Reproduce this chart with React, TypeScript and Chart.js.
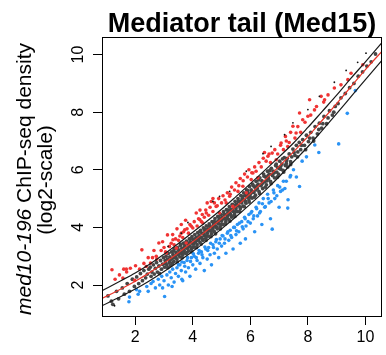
import React, { useEffect, useRef } from "react";
import { Chart, registerables } from "chart.js";

Chart.register(...registerables);

const titleText = "Mediator tail (Med15)";
const yLabelItalic = "med10-196";
const yLabelRest = " ChIP-seq density";
const yLabelLine2 = "(log2-scale)";

const xTicks = [2, 4, 6, 8, 10];
const yTicks = [2, 4, 6, 8, 10];

const lineX = [0.84, 1.5, 2, 2.5, 3, 3.5, 4, 4.5, 5, 5.5, 6, 6.5, 7, 7.5, 8, 8.5, 9, 9.5, 10, 10.58];
const upperY = [1.8, 2.15, 2.42, 2.72, 3.07, 3.44, 3.83, 4.22, 4.63, 5.07, 5.52, 5.98, 6.45, 6.93, 7.47, 8.03, 8.59, 9.18, 9.75, 10.42];
const fitY = [1.53, 1.86, 2.13, 2.43, 2.76, 3.12, 3.5, 3.9, 4.3, 4.72, 5.17, 5.64, 6.12, 6.62, 7.15, 7.72, 8.3, 8.89, 9.48, 10.12];
const lowerY = [1.28, 1.6, 1.86, 2.15, 2.47, 2.81, 3.17, 3.55, 3.95, 4.37, 4.81, 5.27, 5.76, 6.28, 6.8, 7.37, 7.95, 8.54, 9.13, 9.81];

const grayPts = [
  [1.05,1.62],[1.17,1.44],[1.22,1.33],[1.35,1.78],[1.42,1.52],[1.55,1.9],[1.62,1.68],[1.72,2.05],[1.8,1.78],[1.9,2.2],[1.97,1.95],[2.05,2.28],[2.12,2.05],[2.18,2.4],[2.25,2.15],[2.3,2.5],[2.36,2.25],[2.42,2.38],[2.47,2.55],
  [2.52,2.62],[2.55,2.3],[2.58,2.45],[2.63,2.7],[2.66,2.38],[2.7,2.58],[2.74,2.78],[2.77,2.45],[2.82,2.66],[2.84,2.4],[2.88,2.85],[2.91,2.55],[2.95,2.72],[2.98,2.95],
  [3.02,2.62],[3.04,2.85],[3.07,3.0],[3.1,2.7],[3.12,2.9],[3.15,3.1],[3.18,2.78],[3.2,2.98],[3.23,2.68],[3.26,3.15],[3.28,2.92],[3.31,3.05],[3.34,2.82],[3.36,3.25],[3.39,3.0],[3.42,3.12],[3.45,2.9],[3.47,3.3],[3.5,3.05],
  [3.52,3.2],[3.55,2.98],[3.57,3.38],[3.6,3.12],[3.62,3.28],[3.65,3.05],[3.68,3.45],[3.7,3.2],[3.72,3.35],[3.75,3.1],[3.78,3.52],[3.8,3.28],[3.82,3.42],[3.85,3.18],[3.88,3.6],[3.9,3.35],[3.92,3.5],[3.95,3.25],[3.97,3.68],[4.0,3.42],
  [4.02,3.58],[4.05,3.32],[4.07,3.75],[4.1,3.5],[4.12,3.65],[4.15,3.4],[4.17,3.82],[4.2,3.58],[4.22,3.72],[4.25,3.48],[4.27,3.9],[4.3,3.65],[4.32,3.8],[4.35,3.55],[4.37,3.98],[4.4,3.72],[4.42,3.88],[4.45,3.62],[4.47,4.05],[4.5,3.8],
  [4.52,3.95],[4.55,3.7],[4.57,4.12],[4.6,3.88],[4.62,4.02],[4.65,3.78],[4.67,4.2],[4.7,3.95],[4.72,4.1],[4.75,3.85],[4.77,4.3],[4.8,4.05],[4.82,4.18],[4.85,3.95],[4.87,4.38],[4.9,4.12],[4.92,4.28],[4.95,4.02],[4.97,4.45],[5.0,4.22],
  [5.02,4.35],[5.05,4.1],[5.07,4.55],[5.1,4.3],[5.12,4.45],[5.15,4.2],[5.17,4.62],[5.2,4.38],[5.22,4.52],[5.25,4.28],[5.27,4.72],[5.3,4.48],[5.32,4.62],[5.35,4.36],[5.37,4.8],[5.4,4.56],[5.42,4.7],[5.45,4.45],[5.47,4.9],[5.5,4.65],
  [5.52,4.8],[5.55,4.55],[5.57,5.0],[5.6,4.75],[5.62,4.9],[5.65,4.65],[5.67,5.1],[5.7,4.85],[5.72,5.0],[5.75,4.74],[5.77,5.2],[5.8,4.95],[5.82,5.1],[5.85,4.84],[5.87,5.3],[5.9,5.05],[5.92,5.2],[5.95,4.95],[5.97,5.42],[6.0,5.15],
  [6.03,5.3],[6.06,5.02],[6.08,5.5],[6.12,5.22],[6.15,5.4],[6.18,5.12],[6.2,5.6],[6.24,5.35],[6.27,5.5],[6.3,5.25],[6.33,5.72],[6.36,5.45],[6.4,5.62],[6.43,5.35],[6.46,5.85],[6.5,5.58],
  [6.53,5.75],[6.56,5.48],[6.6,5.95],[6.63,5.7],[6.66,5.85],[6.7,5.6],[6.73,6.05],[6.77,5.8],[6.8,5.95],[6.84,5.72],[6.88,6.15],[6.92,5.92],[6.95,6.08],[6.98,5.85],
  [7.02,6.3],[7.06,6.02],[7.1,6.2],[7.14,5.98],[7.18,6.42],[7.22,6.15],[7.26,6.32],[7.3,6.1],[7.35,6.55],[7.4,6.28],[7.44,6.45],[7.48,6.72],
  [7.55,6.5],[7.6,6.85],[7.65,6.62],[7.7,6.95],[7.75,6.7],[7.82,7.05],[7.88,6.85],[7.95,7.2],[8.02,6.98],[8.1,7.3],[8.18,7.1],[8.25,7.5],[8.33,7.25],[8.4,7.62],[8.48,7.45],[8.56,7.85],[8.65,7.6],[8.75,8.05],[8.85,7.9],[8.95,8.2],[9.05,8.3],[9.15,8.5],[9.3,8.65],[9.45,8.85],[9.6,9.0],[9.75,9.25],[9.9,9.4],[10.05,9.6],[10.2,9.75],[10.35,10.02],
  [3.33,3.18],[3.41,2.95],[3.49,3.22],[3.58,3.42],[3.66,3.15],[3.74,3.45],[3.83,3.3],[3.91,3.6],[3.99,3.3],[4.08,3.6],[4.16,3.55],[4.24,3.85],[4.33,3.6],[4.41,3.95],[4.49,3.7],[4.58,4.05],[4.66,3.9],[4.74,4.2],[4.83,4.0],[4.91,4.35],[4.99,4.1],[5.08,4.45],[5.16,4.3],[5.24,4.6],[5.33,4.42],[5.41,4.78],[5.49,4.55],[5.58,4.9],[5.66,4.7],[5.74,5.08],[5.83,4.9],[5.91,5.28],[5.99,5.05],[6.1,5.45],[6.19,5.3],[6.28,5.65],[6.38,5.48],[6.48,5.78],[6.58,5.62],[6.68,5.98],[6.78,5.85],[6.9,6.2],[7.0,6.05],[7.12,6.38],[7.25,6.22],
  [3.05,2.75],[3.13,2.6],[3.21,2.85],[3.29,2.75],[3.37,2.95],[3.46,2.8],[3.54,3.1],[3.63,2.95],[3.71,3.3],[3.79,3.12],[3.87,3.45],[3.96,3.15],[4.04,3.45],[4.13,3.3],[4.21,3.65],[4.29,3.42],[4.38,3.78],[4.46,3.55],[4.54,3.88],[4.63,3.68],[4.71,4.02],[4.79,3.78],[4.88,4.2],[4.96,3.95],[5.04,4.3],[5.13,4.12],[5.21,4.42],[5.29,4.22],[5.38,4.6],[5.46,4.38],[5.54,4.75],[5.63,4.55],[5.71,4.95],[5.79,4.72],[5.88,5.12],[5.96,4.88],[6.05,5.22],[6.14,5.05],[6.23,5.45],[6.32,5.18],[6.41,5.52],[6.52,5.4],[6.62,5.8],[6.72,5.52],[6.83,5.9],[6.94,5.75],[7.05,6.12],[7.16,5.92],[7.28,6.4],[7.4,6.18],[7.52,6.6],[7.64,6.45],[7.78,6.85],[7.92,6.7],[8.06,7.1],[8.2,7.0],[8.38,7.4],[8.52,7.6],[8.7,7.8],[8.9,8.0]
];

const redPts = [
  [1.19,2.53],[1.57,2.24],[1.6,2.55],[1.69,2.55],[1.83,2.58],[2.01,2.67],[2.23,3.22],[1.98,2.16],[2.38,2.64],[2.53,2.76],[2.73,3.0],[2.82,3.46],[3.08,3.11],[3.12,3.74],[3.19,3.34],[3.31,3.57],[3.43,3.28],[3.6,3.8],[3.72,3.92],[3.77,3.46],[3.95,4.04],[4.12,4.5],[4.24,4.27],[4.35,4.15],[4.47,4.5],[4.64,4.9],[4.81,4.73],[4.93,4.5],[5.16,4.85],[5.28,5.08],[5.39,4.73],[5.57,5.25],[5.74,5.43],[5.86,5.2],[6.03,5.66],[6.09,5.89],[6.26,5.72],[6.49,6.6],[6.61,6.47],[6.76,6.58],[6.9,6.35],[7.07,6.93],[7.22,7.16],[7.3,6.81],[7.48,7.51],[7.59,7.28],[7.71,7.97],[7.82,7.74],[8.0,7.86],[8.06,8.43],[8.23,8.08],[8.46,8.55],[8.58,8.43],[8.92,8.84],[9.39,9.13],[9.91,9.65],
  [2.9,3.2],[3.0,3.3],[3.05,3.15],[3.25,3.45],[3.35,3.4],[3.4,3.6],[3.5,3.55],[3.55,3.7],[3.65,3.65],[3.68,3.85],[3.8,3.95],[3.85,3.8],[3.9,4.1],[4.0,3.98],[4.05,4.2],[4.15,4.05],[4.2,4.3],[4.3,4.2],[4.33,4.45],[4.4,4.35],[4.45,4.6],[4.55,4.42],[4.6,4.7],[4.7,4.55],[4.75,4.85],[4.85,4.75],[4.9,5.0],[5.0,4.85],[5.05,5.1],[5.12,4.95],[5.2,5.2],[5.3,5.15],[5.35,5.4],[5.45,5.3],[5.5,5.55],[5.6,5.45],[5.65,5.7],[5.75,5.62],[5.8,5.85],[5.9,5.75],[5.95,6.0],[6.05,5.9],[6.15,6.1],[6.2,5.95],[6.3,6.25],[6.38,6.1],[6.45,6.4],[6.55,6.3],[6.65,6.55],[6.7,6.25],[6.85,6.7],[6.95,6.55],[7.05,6.85],[7.15,6.7],[7.25,7.0],[7.35,6.95],[7.4,7.3],[7.55,7.1],[7.65,7.5],[7.75,7.3],[7.9,7.65],[8.1,7.9],[8.3,8.2],[8.55,8.35],[8.7,8.6],[9.15,8.95],[9.5,9.35],
  [1.3,2.2],[1.45,2.35],[1.7,2.45],[2.15,2.55],[2.3,2.75],[2.45,2.95],[2.6,2.95],[2.65,3.2],[2.75,2.9],[2.95,3.5],[3.3,3.75],[3.45,3.95],[3.6,4.1],[3.75,4.25],[4.25,4.6],[4.5,4.85],[4.7,5.0]
];

const bluePts = [
  [1.78,1.42],[1.8,1.58],[2.1,1.68],[2.15,1.78],[2.4,1.95],[2.55,2.05],[2.62,2.12],[2.7,1.9],[2.8,2.2],[2.85,2.0],[2.92,2.3],[3.02,1.6],[3.0,2.15],[3.1,2.35],[3.15,2.0],[3.2,2.45],[3.25,2.25],[3.3,2.55],[3.35,2.1],[3.4,2.4],[3.45,2.6],[3.5,2.3],[3.55,2.7],[3.6,2.5],[3.65,2.15],[3.7,2.78],[3.75,2.45],[3.8,2.85],[3.85,2.6],[3.9,2.3],[3.95,2.95],[4.0,2.7],[4.05,3.0],[4.1,2.55],[4.15,2.85],[4.2,3.1],[4.25,2.75],[4.3,3.15],[4.35,2.95],[4.4,2.5],[4.45,3.25],[4.5,2.9],[4.55,3.3],[4.6,3.05],[4.65,2.7],[4.7,3.4],[4.75,3.1],[4.8,3.5],[4.85,3.25],[4.9,2.95],[4.95,3.6],[5.0,3.35],[5.05,3.7],[5.1,3.45],[5.15,3.1],[5.2,3.8],[5.25,3.55],[5.3,3.9],[5.35,3.65],[5.4,3.25],[5.45,4.0],[5.5,3.75],[5.55,4.1],[5.6,3.85],[5.65,3.45],[5.7,4.2],[5.75,3.95],[5.8,4.35],[5.85,4.05],[5.83,3.6],[5.95,4.45],[6.0,4.15],[6.05,4.55],[6.1,4.3],[6.15,3.85],[6.2,4.7],[6.25,4.4],[6.3,4.85],[6.35,4.55],[6.4,4.1],[6.45,5.0],[6.5,4.7],[6.6,5.15],[6.65,4.85],[6.7,4.3],[6.76,3.94],[6.8,5.3],[6.85,5.0],[6.95,5.45],[7.0,4.7],[7.05,5.25],[7.15,5.6],[7.2,5.35],[7.31,4.96],[7.3,4.67],[7.4,5.8],[7.5,6.0],[7.6,5.75],[7.71,5.42],[7.8,6.3],[7.95,6.45],[8.24,6.86],[8.38,6.6],[9.07,6.9],[9.37,7.96],[9.65,8.75],[2.45,1.78],[2.95,1.9],[3.28,1.95],[3.62,2.2],[2.04,1.84],
  [3.5,2.7],[3.62,2.8],[3.72,2.65],[3.82,2.95],[3.92,2.82],[4.02,3.08],[4.12,2.95],[4.22,3.2],[4.32,3.05],[4.42,3.32],[4.52,3.2],[4.62,3.45],[4.72,3.3],[4.82,3.58],[4.92,3.45],[5.02,3.72],[5.12,3.6],[5.22,3.85],[5.32,3.72],[5.42,4.0],[5.52,3.88],[5.62,4.15],[5.72,4.02],[5.82,4.3],[5.92,4.2],[6.02,4.5],[6.12,4.4],[6.22,4.65],[6.32,4.5],[6.42,4.82],[6.52,4.72],[6.62,5.0],[6.72,4.9],[6.82,5.2],[6.92,5.1],[7.02,5.4],[7.12,5.3],[7.25,5.6],[7.38,5.75]
];

const dotPts = [
  [10.02,10.05],[9.73,9.73],[9.33,9.45],[8.92,9.04],[8.4,8.55],[8.0,8.09],[7.48,7.63],[7.19,7.22],[6.72,6.81],[6.44,6.56],[5.86,5.95],[5.28,5.25],[4.93,5.08],[4.7,4.9],[3.83,4.17],[3.6,3.8],[3.14,3.34],[2.73,2.88],[2.38,2.65],[1.28,1.28]
];

const FONT = "'Liberation Sans', Arial, Helvetica, sans-serif";

const toXY = (pts: number[][]) => pts.map(([x, y]) => ({ x, y }));
const lineXY = (ys: number[]) => lineX.map((x, i) => ({ x, y: ys[i] }));

const decorPlugin = {
  id: "decor",
  afterDatasetsDraw(chart: any) {
    const { ctx, chartArea } = chart;
    ctx.save();
    ctx.strokeStyle = "#000";
    ctx.lineWidth = 1;
    ctx.strokeRect(Math.round(chartArea.left) + 0.5, Math.round(chartArea.top) + 0.5,
      Math.round(chartArea.right - chartArea.left) - 1, Math.round(chartArea.bottom - chartArea.top) - 1);
    ctx.restore();
  },
  afterDraw(chart: any) {
    const { ctx, chartArea } = chart;
    ctx.save();
    ctx.fillStyle = "#000";
    ctx.font = `bold 27px ${FONT}`;
    ctx.textAlign = "center";
    ctx.textBaseline = "alphabetic";
    ctx.fillText(titleText, (chartArea.left + chartArea.right) / 2, 31.5);

    const cy = 179;
    const italicFont = `italic 21px ${FONT}`;
    const normalFont = `21px ${FONT}`;
    ctx.font = italicFont;
    const w1 = ctx.measureText(yLabelItalic).width;
    ctx.font = normalFont;
    const w2 = ctx.measureText(yLabelRest).width;
    const total = w1 + w2;
    ctx.save();
    ctx.translate(30.5, cy);
    ctx.rotate(-Math.PI / 2);
    ctx.textAlign = "left";
    ctx.font = italicFont;
    ctx.fillText(yLabelItalic, -total / 2, 0);
    ctx.font = normalFont;
    ctx.fillText(yLabelRest, -total / 2 + w1, 0);
    ctx.restore();

    ctx.save();
    ctx.translate(51.5, cy + 1);
    ctx.rotate(-Math.PI / 2);
    ctx.textAlign = "center";
    ctx.font = normalFont;
    ctx.fillText(yLabelLine2, 0, 0);
    ctx.restore();
    ctx.restore();
  },
};

export default function App() {
  const ref = useRef<HTMLCanvasElement | null>(null);
  useEffect(() => {
    if (!ref.current) return;
    const chart = new Chart(ref.current, {
      type: "scatter",
      data: {
        datasets: [
          { data: lineXY(upperY), showLine: true, borderColor: "#1a1a1a", borderWidth: 1.2, pointRadius: 0, cubicInterpolationMode: "monotone", order: 0 } as any,
          { data: lineXY(fitY), showLine: true, borderColor: "#e8352a", borderWidth: 1.2, pointRadius: 0, cubicInterpolationMode: "monotone", order: 0 } as any,
          { data: lineXY(lowerY), showLine: true, borderColor: "#1a1a1a", borderWidth: 1.2, pointRadius: 0, cubicInterpolationMode: "monotone", order: 0 } as any,
          { data: toXY(dotPts), pointRadius: 0.9, backgroundColor: "#111", borderWidth: 0, order: 1 },
          { data: toXY(redPts), pointRadius: 1.8, backgroundColor: "#f03434", borderWidth: 0, order: 2 },
          { data: toXY(bluePts), pointRadius: 1.8, backgroundColor: "#2a93f5", borderWidth: 0, order: 2 },
          { data: toXY(grayPts), pointRadius: 1.9, backgroundColor: "#464646", borderWidth: 0, order: 3 },
        ],
      },
      options: {
        animation: false,
        responsive: false,
        devicePixelRatio: 1,
        layout: { padding: { left: 0, top: 37, right: 3, bottom: 0 } },
        plugins: { legend: { display: false }, tooltip: { enabled: false }, title: { display: false } },
        scales: {
          x: {
            type: "linear",
            min: 0.844,
            max: 10.576,
            afterBuildTicks: (s: any) => { s.ticks = xTicks.map((v) => ({ value: v })); },
            afterFit: (s: any) => { s.height = 38; },
            grid: { display: true, drawOnChartArea: false, drawTicks: true, tickLength: 8, color: "#000", lineWidth: 1 },
            border: { display: false },
            ticks: { color: "#000", font: { family: FONT, size: 16 }, padding: 3, maxRotation: 0, autoSkip: false },
          },
          y: {
            type: "linear",
            min: 0.889,
            max: 10.611,
            afterBuildTicks: (s: any) => { s.ticks = yTicks.map((v) => ({ value: v })); },
            afterFit: (s: any) => { s.width = 102; },
            grid: { display: true, drawOnChartArea: false, drawTicks: true, tickLength: 9, color: "#000", lineWidth: 1 },
            border: { display: false },
            ticks: { color: "#000", font: { family: FONT, size: 16 }, padding: 6, minRotation: 90, maxRotation: 90, crossAlign: "center", autoSkip: false },
          },
        },
      },
      plugins: [decorPlugin],
    });
    return () => chart.destroy();
  }, []);
  return (
    <div style={{ position: "fixed", left: 0, top: 0, width: 386, height: 355, background: "#fff" }}>
      <canvas ref={ref} width={386} height={355} style={{ width: 386, height: 355 }} />
    </div>
  );
}
